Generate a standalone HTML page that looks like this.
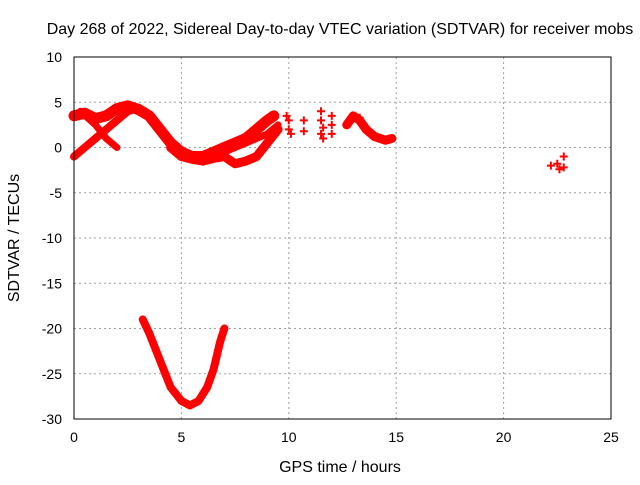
<!DOCTYPE html>
<html><head><meta charset="utf-8"><style>
body{margin:0;background:#fff;font-family:"Liberation Sans",sans-serif}
svg text{font-family:"Liberation Sans",sans-serif;font-size:14px;fill:#000}
</style></head><body>
<svg id="chart" width="640" height="480">
<text x="340" y="34" text-anchor="middle" style="font-size:16px">Day 268 of 2022, Sidereal Day-to-day VTEC variation (SDTVAR) for receiver mobs</text>
<text x="340" y="472" text-anchor="middle" style="font-size:16px">GPS time / hours</text>
<text transform="translate(19,238) rotate(-90)" text-anchor="middle" style="font-size:16px">SDTVAR / TECUs</text>
<g id="grid"></g><g id="ticks"></g><g id="marks"></g>
<rect x="74" y="57" width="537" height="362" fill="none" stroke="#000" stroke-width="1"/>
</svg>
<script>
const xTicks=[0,5,10,15,20,25];
const yTicks=[10,5,0,-5,-10,-15,-20,-25,-30];
const trackA_t=[0,0.5,1,1.5,2,2.5,3,3.5,4,4.5,5,5.5,6,6.5,7,7.5,8,8.5,9,9.3];
const trackA_v=[3.5,3.8,3.2,3.5,4.3,4.6,4.2,3.5,2,0.5,-0.5,-1,-1,-0.5,0,0.5,1,2,3,3.5];
const trackB_t=[0,0.5,1,1.5,2,2.5,3,3.3];
const trackB_v=[-1,0,1,2,3,4,4.4,4];
const trackC_t=[0.3,1,1.5,2];
const trackC_v=[4,2.5,1,0];
const trackD_t=[4.5,5,5.5,6,6.5,7,7.5,8,8.5,9,9.5];
const trackD_v=[0,-1,-1.3,-1.5,-1.2,-1,-1.8,-1.5,-1,0.5,2];
const trackE_t=[7,7.5,8,8.5,9,9.5];
const trackE_v=[-0.5,0,0.5,1,1.5,2.5];
const trackF_t=[12.7,13,13.3,13.6,14,14.5,14.8];
const trackF_v=[2.5,3.5,3,2,1.2,0.8,1];
const trackG_t=[3.2,3.5,4,4.5,5,5.4,5.8,6.2,6.5,6.8,7];
const trackG_v=[-19,-20.5,-23.5,-26.5,-28,-28.5,-28,-26.5,-24.5,-21.5,-20];
const scatter_t=[9.9,10,10.1,10,10.7,10.7,11.5,11.5,11.6,11.5,11.6,12,12,12,13,13.3,22.2,22.5,22.6,22.8,22.8];
const scatter_v=[3.5,2,1.5,3,3,1.8,4,3,2.2,1.5,1,3.5,2.5,1.5,3.5,3.3,-2,-1.8,-2.4,-1,-2.2];
const X=t=>74+t*537/25, Y=v=>147.5-v*9.05;
const NS='http://www.w3.org/2000/svg';
function mk(tag,attrs,parent){const e=document.createElementNS(NS,tag);for(const k in attrs)e.setAttribute(k,attrs[k]);document.getElementById(parent).appendChild(e);return e;}
xTicks.forEach(t=>{
 if(t>0&&t<25){const g=mk('line',{x1:X(t),x2:X(t),y1:57,y2:419,stroke:'#a0a0a0','stroke-dasharray':'2,3'},'grid');
 
 }
 const l=mk('text',{x:X(t),y:442,'text-anchor':'middle'},'ticks');l.textContent=t;
 
 
});
yTicks.forEach(v=>{
 if(v<10&&v>-30){const g=mk('line',{x1:74,x2:611,y1:Y(v),y2:Y(v),stroke:'#a0a0a0','stroke-dasharray':'2,3'},'grid');
 
 }
 const l=mk('text',{x:62,y:Y(v)+5,'text-anchor':'end'},'ticks');l.textContent=v;
 
 
});
[[trackA_t,trackA_v,11],[trackB_t,trackB_v,8],[trackC_t,trackC_v,7],[trackD_t,trackD_v,9],[trackE_t,trackE_v,7],[trackF_t,trackF_v,9],[trackG_t,trackG_v,8]].forEach(([ts,vs,w])=>{
 const p=mk('polyline',{points:ts.map((t,i)=>X(t)+','+Y(vs[i])).join(' '),fill:'none',stroke:'#f00','stroke-width':w,'stroke-linejoin':'round','stroke-linecap':'round'},'marks');
 
 
});
scatter_t.forEach((t,i)=>{
 const x=X(t),y=Y(scatter_v[i]);
 const p=mk('path',{d:`M${x-4},${y}H${x+4}M${x},${y-4}V${y+4}`,stroke:'#f00','stroke-width':2},'marks');
 
 
});
</script>
</body></html>
